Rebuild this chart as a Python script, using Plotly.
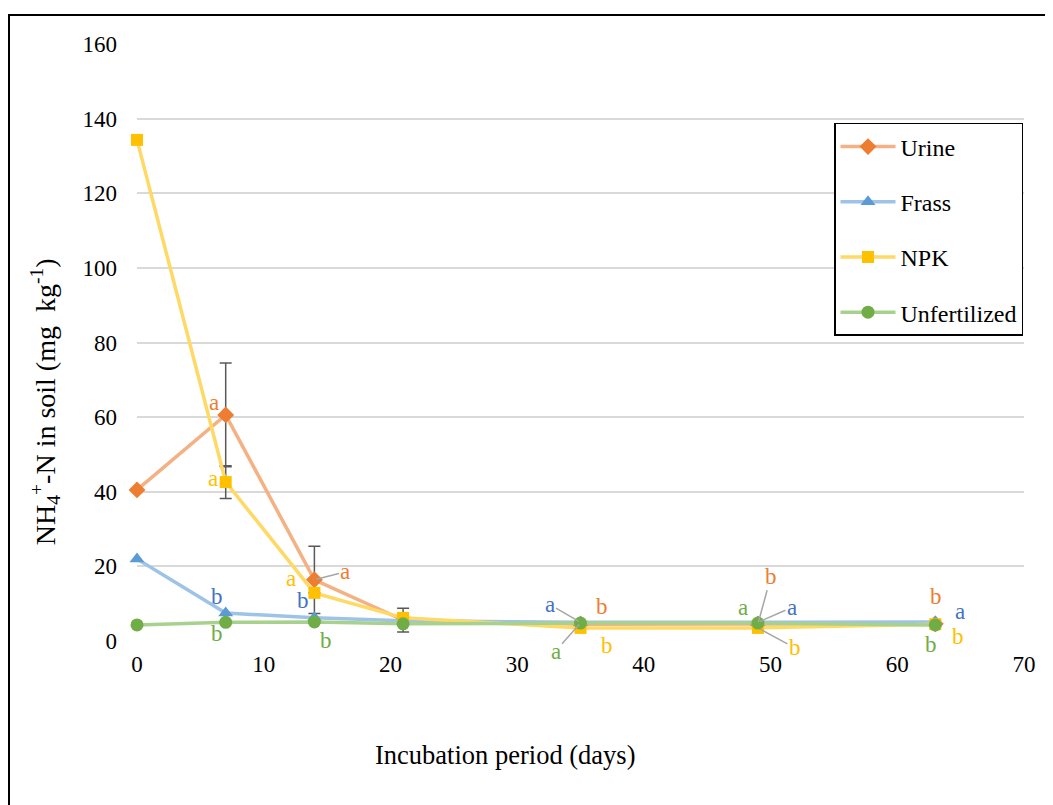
import plotly.graph_objects as go

days = [0, 7, 14, 21, 35, 49, 63]
urine = [40.5, 60.6, 16.4, 5.6, 4.5, 4.5, 4.6]
frass = [22.0, 7.5, 6.2, 5.4, 5.0, 5.0, 5.1]
npk = [134.3, 42.6, 12.9, 6.2, 3.5, 3.5, 4.5]
unfert = [4.3, 5.0, 5.1, 4.6, 4.8, 4.8, 4.3]
urine_err = [0, 13.9, 9.0, 3.2, 0, 0, 0]
npk_err = [0, 4.4, 0, 0, 0, 0, 0]

names = ["Urine", "Frass", "NPK", "Unfertilized"]
values = [urine, frass, npk, unfert]
errors = [urine_err, None, npk_err, None]
line_colors = ["#F4B183", "#9DC3E6", "#FFD966", "#A9D18E"]
marker_colors = ["#ED7D31", "#5B9BD5", "#FFC000", "#70AD47"]
letter_colors = ["#ED7D31", "#4472C4", "#FFC000", "#70AD47"]
symbols = ["diamond", "triangle-up", "square", "circle"]
msizes = [13, 13, 12, 13]

x_title = "Incubation period (days)"
y_title = "NH<sub>4</sub><sup>+</sup>-N in soil (mg  kg<sup>-1</sup>)"

# significance letters: (series index, day index, letter, dx px, dy px up, leader)
letters = [
    (0, 1, "a", -12, 12, False), (2, 1, "a", -13, 4, False),
    (1, 1, "b", -9, 17, False), (3, 1, "b", -9, -11, False),
    (2, 2, "a", -23, 14, False), (0, 2, "a", 31, 8, True),
    (1, 2, "b", -11, 17, False), (3, 2, "b", 12, -19, False),
    (1, 4, "a", -31, 18, True), (0, 4, "b", 21, 18, False),
    (3, 4, "a", -25, -28, True), (2, 4, "b", 26, -18, False),
    (3, 5, "a", -15, 16, False), (0, 5, "b", 13, 48, True),
    (1, 5, "a", 34, 15, True), (2, 5, "b", 37, -20, True),
    (0, 6, "b", 1, 27, False), (1, 6, "a", 25, 10, False),
    (2, 6, "b", 23, -12, False), (3, 6, "b", -4, -20, False),
]

FONT = "Liberation Serif, Times New Roman, serif"

fig = go.Figure()
for i, name in enumerate(names):
    err = None
    if errors[i] is not None:
        err = dict(type="data", array=errors[i], visible=True,
                   color="#595959", thickness=1.5, width=6)
    fig.add_trace(go.Scatter(
        x=days, y=values[i], name=name, mode="lines+markers",
        line=dict(color=line_colors[i], width=3.5),
        marker=dict(symbol=symbols[i], size=msizes[i], color=marker_colors[i]),
        error_y=err, legendgroup=name, cliponaxis=False,
    ))

annotations = []
for s, d, txt, dx, dy, leader in letters:
    if leader:
        annotations.append(dict(
            x=days[d], y=values[s][d], xref="x", yref="y", text=txt,
            showarrow=True, ax=dx, ay=-dy, arrowhead=0, arrowwidth=1.5,
            arrowcolor="#A6A6A6", standoff=2,
            font=dict(family=FONT, size=23, color=letter_colors[s])))
    else:
        annotations.append(dict(
            x=days[d], y=values[s][d], xref="x", yref="y", text=txt,
            showarrow=False, xshift=dx, yshift=dy,
            font=dict(family=FONT, size=23, color=letter_colors[s])))

annotations.append(dict(text=x_title, xref="paper", yref="paper",
                        x=0.416, y=-0.191, showarrow=False,
                        xanchor="center", yanchor="middle",
                        font=dict(family=FONT, size=26.5, color="black")))
annotations.append(dict(text=y_title, xref="paper", yref="paper",
                        x=-0.1037, y=0.40, showarrow=False, textangle=-90,
                        xanchor="center", yanchor="middle",
                        font=dict(family=FONT, size=28, color="black")))

fig.update_layout(
    width=1053, height=805,
    margin=dict(l=129, r=37, t=36, b=172),
    paper_bgcolor="white", plot_bgcolor="white",
    font=dict(family=FONT, size=23, color="black"),
    showlegend=True,
    legend=dict(x=0.7858, y=0.8677, xanchor="left", yanchor="top",
                bordercolor="black", borderwidth=1.5, bgcolor="white",
                font=dict(family=FONT, size=24, color="black"),
                tracegroupgap=21, itemwidth=55),
    annotations=annotations,
    shapes=[dict(type="rect", xref="paper", yref="paper",
                 x0=-0.1443, x1=1.05, y0=-0.32, y1=1.0486,
                 line=dict(color="black", width=2), layer="below")],
)
fig.update_xaxes(range=[0, 70], dtick=10, showgrid=False, zeroline=False,
                 showline=False, ticks="", ticklabelstandoff=7,
                 tickfont=dict(family=FONT, size=23))
fig.update_yaxes(range=[0, 160], dtick=20, showgrid=True, gridcolor="#D9D9D9",
                 gridwidth=1.5, zeroline=False, showline=False, ticks="",
                 ticklabelstandoff=19, tickfont=dict(family=FONT, size=23))

fig.write_html("out.html")
